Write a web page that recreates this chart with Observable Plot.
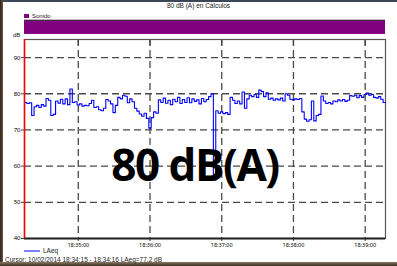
<!DOCTYPE html>
<html><head><meta charset="utf-8">
<script src="https://cdn.jsdelivr.net/npm/d3@7"></script>
<script src="https://cdn.jsdelivr.net/npm/@observablehq/plot@0.6"></script>
<style>
html,body{margin:0;padding:0;background:#fff;}
#wrap{position:relative;width:397px;height:266px;overflow:hidden;background:#fff;font-family:"Liberation Sans",Arial,sans-serif;}
#chart{position:absolute;left:0;top:0;}
.t{position:absolute;white-space:nowrap;color:#222;}
</style></head><body>
<div id="wrap">
  <div id="chart"></div>
  <div class="t" style="left:0;top:0;width:397px;height:2px;background:#3c475a"></div>
  <div class="t" style="left:0;top:0;width:3px;height:266px;background:linear-gradient(90deg,#2e2218,#6a5544)"></div>
  <div class="t" style="left:0;top:262px;width:397px;height:4px;background:linear-gradient(180deg,#8a7a62,#3a2c1e)"></div>
  <div class="t" id="title" style="left:0;width:397px;top:2px;text-align:center;font-size:6.5px;"></div>
  <div class="t" style="left:24px;top:14px;width:5px;height:4px;background:#800080"></div>
  <div class="t" id="legband" style="left:32px;top:12.5px;font-size:6px;"></div>
  <div class="t" style="left:13px;top:32px;font-size:6px;">dB</div>
  <div class="t" style="left:24px;top:250px;width:16px;height:2px;background:#7f7fff"></div>
  <div class="t" id="legline" style="left:43px;top:247px;font-size:6.5px;"></div>
  <div class="t" id="cursor" style="left:5px;top:256px;font-size:6.5px;"></div>
  <div class="t" id="big" style="left:0;width:390px;top:134px;text-align:center;font-family:'Open Sans',sans-serif;font-weight:700;font-size:44px;color:#000;letter-spacing:-1.5px;"></div>
</div>
<script>
// ---- data ----
const title = "80 dB (A) en Cálculos";
const bigLabel = "80 dB(A)";
const bandName = "Sonido";
const seriesName = "LAeq";
const cursorText = "Cursor: 10/02/2014 18:34:15 - 18:34:16  LAeq=77,2 dB";
const startTime = [2014, 1, 10, 18, 34, 15];
const endTime = [2014, 1, 10, 18, 39, 17];
const stepSeconds = 2;
const laeq = [
 77.6,77.3,77.5,74.0,76.4,76.8,76.2,77.0,76.6,78.7,
 78.2,74.0,74.3,78.0,77.4,78.5,77.2,78.6,77.0,81.3,
 77.6,77.8,76.9,77.2,76.6,76.8,76.7,77.3,78.2,76.2,
 76.4,75.6,75.3,76.0,78.4,78.0,77.2,74.8,76.8,79.0,
 78.6,79.6,79.3,77.5,78.6,77.8,76.0,75.2,74.4,73.8,
 74.6,73.2,70.5,73.4,75.0,74.6,78.3,77.6,78.8,77.4,
 78.2,77.0,78.5,77.8,79.0,77.3,78.4,77.6,78.9,77.5,
 78.6,77.9,78.3,77.2,78.7,77.8,78.4,79.2,80.0,56.2,
 75.3,74.6,75.0,74.5,74.8,74.3,79.0,78.2,77.3,78.0,
 77.2,80.5,76.0,78.6,79.6,79.2,79.8,79.0,81.0,80.6,
 79.2,80.3,78.5,78.8,78.2,78.6,78.3,78.8,78.0,80.0,
 79.6,78.5,78.3,78.6,78.4,78.7,75.0,73.0,72.4,72.8,
 78.0,72.5,74.0,74.3,79.4,78.0,77.3,77.6,77.2,78.0,
 77.8,78.3,78.0,78.4,77.9,78.2,79.5,79.3,79.6,78.9,
 79.5,79.0,79.8,80.2,79.6,79.8,79.0,78.8,79.2,78.5,
 77.6,77.5
];
const yTicks = [40, 50, 60, 70, 80, 90];
const xTickTimes = [[18,35,0],[18,36,0],[18,37,0],[18,38,0],[18,39,0]];
const yDomain = [40, 95];
const bandLevels = [96.4, 100.3];

// ---- build ----
const mk = a => new Date(Date.UTC(a[0], a[1], a[2], a[3], a[4], a[5]));
const t0 = mk(startTime), t1 = mk(endTime);
const data = laeq.map((v, i) => ({t: new Date(+t0 + i * stepSeconds * 1000), v}));
const xTicks = xTickTimes.map(h => new Date(Date.UTC(2014, 1, 10, h[0], h[1], h[2])));
const fmt = d3.utcFormat("%H:%M:%S");

const plot = Plot.plot({
  width: 397, height: 266,
  marginTop: 39, marginRight: 12, marginBottom: 28, marginLeft: 24,
  style: {fontFamily: "'Liberation Sans', Arial, sans-serif", fontSize: "6px", color: "#333", background: "transparent"},
  x: {type: "utc", domain: [t0, t1]},
  y: {domain: yDomain},
  marks: [
    Plot.rect([{a: t0, b: t1}], {x1: "a", x2: "b", y1: bandLevels[0], y2: bandLevels[1], fill: "#800080"}),
    Plot.ruleY([bandLevels[1]], {x1: t0, x2: t1, stroke: "#333", strokeWidth: 1}),
    Plot.gridX(xTicks, {stroke: "#4a4a4a", strokeOpacity: 1, strokeWidth: 1.3, strokeDasharray: "7,4"}),
    Plot.gridY(yTicks.filter(d => d > yDomain[0]), {stroke: "#4a4a4a", strokeOpacity: 1, strokeWidth: 1.3, strokeDasharray: "7,4"}),
    Plot.ruleX(xTicks, {y1: yDomain[1], y2: 93.2, stroke: "#444", strokeWidth: 1.3}),
    Plot.axisX(xTicks, {tickSize: 3, tickFormat: fmt, tickPadding: 2, fontSize: 5.5, stroke: "#444"}),
    Plot.axisY(yTicks, {tickSize: 3, tickPadding: 1, fontSize: 6, label: null, stroke: "#444"}),
    Plot.frame({stroke: "#555", strokeWidth: 1.2}),
    Plot.ruleY([yDomain[0]], {stroke: "#222", strokeWidth: 1.8}),
    Plot.line(data, {x: "t", y: "v", stroke: "#0000ff", strokeWidth: 1.1, curve: "step-after"}),
    Plot.ruleX([t0], {stroke: "#ff0000", strokeWidth: 1.5})
  ]
});
plot.removeAttribute("style");
plot.style.background = "transparent";
document.getElementById("chart").appendChild(plot);
document.getElementById("title").textContent = title;
document.getElementById("legband").textContent = bandName;
document.getElementById("legline").textContent = seriesName;
document.getElementById("cursor").textContent = cursorText;
document.getElementById("big").textContent = bigLabel;
</script>
</body></html>
